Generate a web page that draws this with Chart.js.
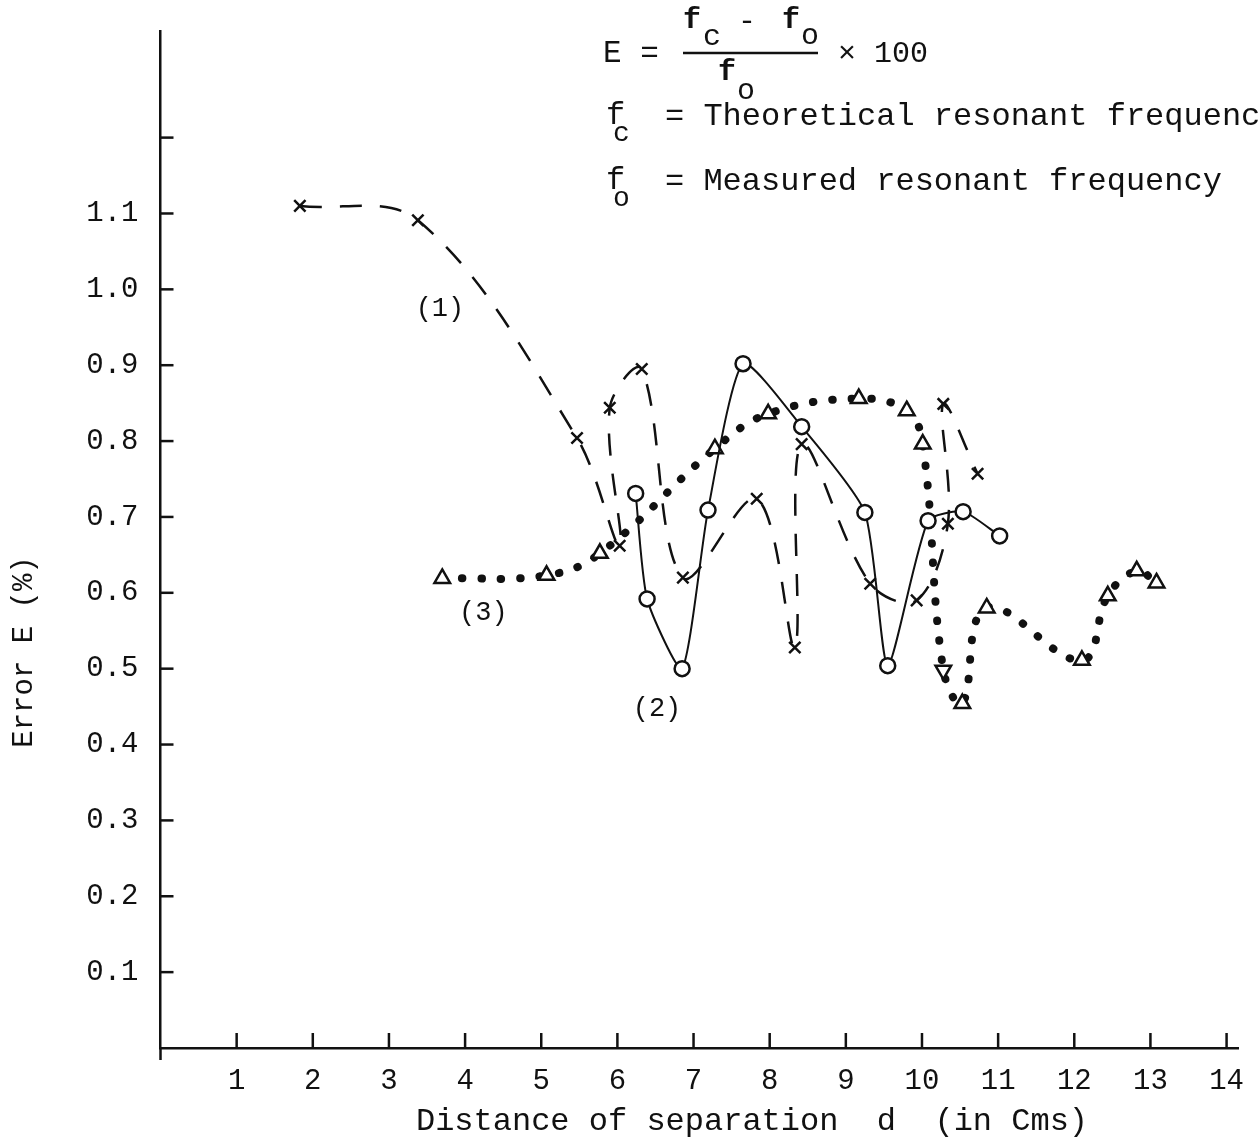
<!DOCTYPE html>
<html>
<head>
<meta charset="utf-8">
<script src="https://cdn.jsdelivr.net/npm/chart.js@4.4.1/dist/chart.umd.min.js"></script>
<style>
  html, body { margin: 0; padding: 0; background: #fff; }
  #wrap { width: 1258px; height: 1143px; position: relative; }
</style>
</head>
<body>
<div id="wrap"><canvas id="errorChart"></canvas></div>
<script>
// distance of separation d (cm) and error E (%)
const curve1D = [1.83, 3.38, 5.47, 6.03, 5.90, 6.32, 6.86, 7.83, 8.33, 8.42, 9.32, 9.93, 10.34, 10.28, 10.73];
const curve1E = [1.11, 1.091, 0.804, 0.662, 0.844, 0.895, 0.62, 0.724, 0.528, 0.796, 0.612, 0.59, 0.691, 0.849, 0.757];

const curve2D = [6.24, 6.39, 6.85, 7.19, 7.65, 8.42, 9.25, 9.55, 10.08, 10.54, 11.02];
const curve2E = [0.731, 0.592, 0.50, 0.709, 0.902, 0.819, 0.706, 0.504, 0.695, 0.707, 0.675];

const curve3D = [3.70, 5.07, 5.77, 7.28, 7.98, 9.17, 9.80, 10.01, 10.28, 10.53, 10.85, 12.10, 12.44, 12.82, 13.08];
const curve3E = [0.619, 0.623, 0.652, 0.790, 0.836, 0.856, 0.840, 0.796, 0.498, 0.454, 0.580, 0.511, 0.596, 0.629, 0.613];
// the one triangle drawn upside down
const curve3Rot = [0, 0, 0, 0, 0, 0, 0, 0, 180, 0, 0, 0, 0, 0, 0];

const xTicks = [1, 2, 3, 4, 5, 6, 7, 8, 9, 10, 11, 12, 13, 14];
const xTickLabels = ['1', '2', '3', '4', '5', '6', '7', '8', '9', '10', '11', '12', '13', '14'];
const yTicks = [0.1, 0.2, 0.3, 0.4, 0.5, 0.6, 0.7, 0.8, 0.9, 1.0, 1.1, 1.2];
const yTickLabels = ['0.1', '0.2', '0.3', '0.4', '0.5', '0.6', '0.7', '0.8', '0.9', '1.0', '1.1', ''];

// curve numbers, placed in data units
const curveTags = [
  { text: '(1)', d: 3.67, e: 0.974 },
  { text: '(2)', d: 6.52, e: 0.447 },
  { text: '(3)', d: 4.24, e: 0.574 }
];

const INK = '#111';
const MONO = '"Liberation Mono", "DejaVu Sans Mono", monospace';

const toPoints = (xs, ys) => xs.map((x, i) => ({ x: x, y: ys[i] }));

// ticks point inward on this plot, so draw them ourselves
const inwardTicks = {
  id: 'inwardTicks',
  afterDraw(chart) {
    const { ctx, scales: { x, y } } = chart;
    ctx.save();
    ctx.strokeStyle = INK;
    ctx.lineWidth = 2.5;
    xTicks.forEach(v => {
      const px = x.getPixelForValue(v);
      ctx.beginPath();
      ctx.moveTo(px, y.bottom);
      ctx.lineTo(px, y.bottom - 15);
      ctx.stroke();
    });
    yTicks.forEach(v => {
      const py = y.getPixelForValue(v);
      ctx.beginPath();
      ctx.moveTo(x.left, py);
      ctx.lineTo(x.left + 13, py);
      ctx.stroke();
    });
    // the hand-drawn y axis runs a little below the x axis
    ctx.beginPath();
    ctx.moveTo(x.left, y.bottom);
    ctx.lineTo(x.left, y.bottom + 12);
    ctx.stroke();
    ctx.restore();
  }
};

const notes = {
  id: 'notes',
  afterDraw(chart) {
    const { ctx, scales: { x, y } } = chart;
    ctx.save();
    ctx.fillStyle = INK;
    ctx.textBaseline = 'middle';

    ctx.font = '27px ' + MONO;
    ctx.textAlign = 'center';
    curveTags.forEach(t => ctx.fillText(t.text, x.getPixelForValue(t.d), y.getPixelForValue(t.e)));

    // axis titles are typed off-centre on the original
    ctx.font = '32px ' + MONO;
    ctx.fillText('Distance of separation  d  (in Cms)', 752, 1122);
    ctx.save();
    ctx.translate(24, 652);
    ctx.rotate(-Math.PI / 2);
    ctx.font = '29px ' + MONO;
    ctx.fillText('Error E (%)', 0, 0);
    ctx.restore();

    // formula block, top right
    ctx.textAlign = 'left';
    ctx.font = '31px ' + MONO;
    ctx.fillText('E =', 603, 54);
    ctx.font = 'bold 30px ' + MONO;
    ctx.fillText('f', 683, 20);
    ctx.fillText('f', 782, 20);
    ctx.fillText('f', 718, 72);
    ctx.font = '30px ' + MONO;
    ctx.fillText('c', 703, 37);
    ctx.fillText('-', 738, 22);
    ctx.fillText('o', 801, 36);
    ctx.fillText('o', 737, 91);
    ctx.fillText('\u00d7 100', 838, 54);
    ctx.lineWidth = 2.5;
    ctx.strokeStyle = INK;
    ctx.beginPath();
    ctx.moveTo(683, 53);
    ctx.lineTo(818, 53);
    ctx.stroke();

    ctx.font = '32px ' + MONO;
    ctx.fillText('f', 606, 116);
    ctx.fillText('= Theoretical resonant frequency', 665, 117);
    ctx.fillText('f', 606, 181);
    ctx.fillText('= Measured resonant frequency', 665, 182);
    ctx.font = '28px ' + MONO;
    ctx.fillText('c', 613, 134);
    ctx.fillText('o', 613, 199);
    ctx.restore();
  }
};

new Chart(document.getElementById('errorChart'), {
  type: 'scatter',
  data: {
    datasets: [
      {
        label: '(1)',
        data: toPoints(curve1D, curve1E),
        showLine: true,
        tension: 0.35,
        borderColor: INK,
        borderWidth: 2.5,
        borderDash: [22, 18],
        pointStyle: 'crossRot',
        pointRadius: 8,
        pointBorderWidth: 2.5,
        pointBorderColor: INK,
        pointBackgroundColor: INK
      },
      {
        label: '(2)',
        data: toPoints(curve2D, curve2E),
        showLine: true,
        tension: 0.2,
        borderColor: INK,
        borderWidth: 2,
        pointStyle: 'circle',
        pointRadius: 7.5,
        pointBorderWidth: 2.5,
        pointBorderColor: INK,
        pointBackgroundColor: '#fff'
      },
      {
        label: '(3)',
        data: toPoints(curve3D, curve3E),
        showLine: true,
        tension: 0.4,
        borderColor: INK,
        borderWidth: 8,
        borderDash: [0.5, 19],
        borderCapStyle: 'round',
        pointStyle: 'triangle',
        pointRotation: curve3Rot,
        pointRadius: 9,
        pointBorderWidth: 2.5,
        pointBorderColor: INK,
        pointBackgroundColor: '#fff'
      }
    ]
  },
  options: {
    responsive: true,
    maintainAspectRatio: false,
    animation: false,
    layout: { padding: { top: 30, right: 20, left: 0, bottom: 0 } },
    plugins: {
      legend: { display: false },
      tooltip: { enabled: false }
    },
    scales: {
      x: {
        type: 'linear',
        min: 0,
        max: 14.15,
        grid: { display: false },
        border: { display: true, color: INK, width: 2.5 },
        afterBuildTicks: s => { s.ticks = xTicks.map(v => ({ value: v })); },
        afterFit: s => { s.height = 95; },
        ticks: {
          autoSkip: false,
          maxRotation: 0,
          padding: 8,
          color: INK,
          font: { family: MONO, size: 29 },
          callback: (v, i) => xTickLabels[i]
        }
      },
      y: {
        type: 'linear',
        min: 0,
        max: 1.34,
        grid: { display: false },
        border: { display: true, color: INK, width: 2.5 },
        afterBuildTicks: s => { s.ticks = yTicks.map(v => ({ value: v })); },
        afterFit: s => { s.width = 160.5; },
        ticks: {
          autoSkip: false,
          padding: 14,
          color: INK,
          font: { family: MONO, size: 29 },
          callback: (v, i) => yTickLabels[i]
        }
      }
    }
  },
  plugins: [inwardTicks, notes]
});
</script>
</body>
</html>
